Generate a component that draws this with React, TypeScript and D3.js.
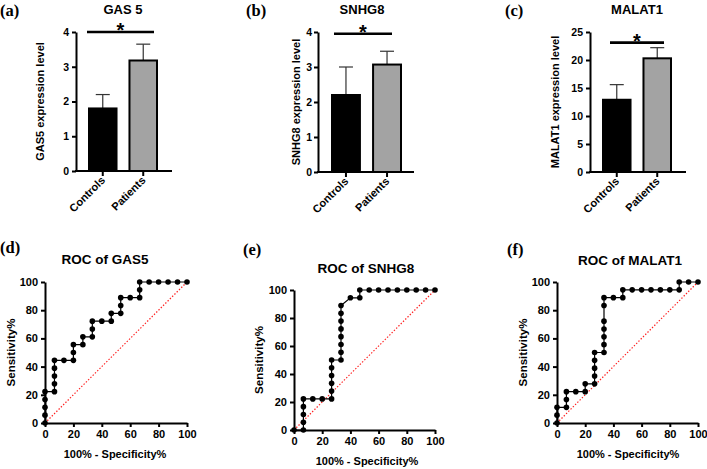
import React, { useEffect, useRef } from "react";
import * as d3 from "d3";

const FONT = "'Liberation Sans', Arial, sans-serif";
const SERIF = "'Liberation Serif', 'Times New Roman', serif";

// bar chart data
const groups = ["Controls", "Patients"];
const gas5Mean = [1.8, 3.18];
const gas5Sd = [0.4, 0.47];
const snhg8Mean = [2.2, 3.07];
const snhg8Sd = [0.8, 0.38];
const malat1Mean = [12.9, 20.3];
const malat1Sd = [2.7, 1.9];
const levelTicks = [0, 1, 2, 3, 4];
const malatTicks = [0, 5, 10, 15, 20, 25];
const rocTicks = [0, 20, 40, 60, 80, 100];

// ROC curves: 100% - specificity% (x) and sensitivity% (y)
const gas5RocX = [0, 0, 0, 0, 0, 6.67, 6.67, 6.67, 6.67, 6.67, 13.33, 20, 20, 20, 26.67, 26.67, 33.33, 33.33, 33.33, 40, 46.67, 46.67, 53.33, 53.33, 53.33, 60, 66.67, 66.67, 66.67, 73.33, 80, 86.67, 93.33, 100];
const gas5RocY = [0, 5.56, 11.11, 16.67, 22.22, 22.22, 27.78, 33.33, 38.89, 44.44, 44.44, 44.44, 50, 55.56, 55.56, 61.11, 61.11, 66.67, 72.22, 72.22, 72.22, 77.78, 77.78, 83.33, 88.89, 88.89, 88.89, 94.44, 100, 100, 100, 100, 100, 100];

const snhg8RocX = [0, 6.67, 6.67, 6.67, 6.67, 6.67, 13.33, 20, 26.67, 26.67, 26.67, 26.67, 26.67, 26.67, 33.33, 33.33, 33.33, 33.33, 33.33, 33.33, 33.33, 33.33, 40, 46.67, 46.67, 53.33, 60, 66.67, 73.33, 80, 86.67, 93.33, 100];
const snhg8RocY = [0, 0, 5.56, 11.11, 16.67, 22.22, 22.22, 22.22, 22.22, 27.78, 33.33, 38.89, 44.44, 50, 50, 55.56, 61.11, 66.67, 72.22, 77.78, 83.33, 88.89, 94.44, 94.44, 100, 100, 100, 100, 100, 100, 100, 100, 100];

const malat1RocX = [0, 0, 0, 6.67, 6.67, 6.67, 13.33, 20, 20, 26.67, 26.67, 26.67, 26.67, 26.67, 33.33, 33.33, 33.33, 33.33, 33.33, 33.33, 33.33, 40, 46.67, 46.67, 53.33, 60, 66.67, 73.33, 80, 86.67, 86.67, 93.33, 100];
const malat1RocY = [0, 5.56, 11.11, 11.11, 16.67, 22.22, 22.22, 22.22, 27.78, 27.78, 33.33, 38.89, 44.44, 50, 50, 55.56, 61.11, 66.67, 72.22, 83.33, 88.89, 88.89, 88.89, 94.44, 94.44, 94.44, 94.44, 94.44, 94.44, 94.44, 100, 100, 100];

function Axis({ kind, scale, transform, ticks, fontSize = 10.5, noLabels = false, noDomain = false, size = 4, pad = 3 }: any) {
  const ref = useRef<SVGGElement>(null);
  useEffect(() => {
    if (!ref.current) return;
    const axis = kind === "left" ? d3.axisLeft(scale) : d3.axisBottom(scale);
    axis.tickSizeInner(size).tickSizeOuter(0).tickPadding(pad);
    if (ticks) axis.tickValues(ticks).tickFormat((d: any) => String(d));
    if (noLabels) axis.tickFormat(() => "");
    const g = d3.select(ref.current);
    g.selectAll("*").remove();
    g.call(axis as any);
    g.select(".domain").attr("stroke-width", 2).attr("stroke", "#000");
    if (noDomain) g.select(".domain").remove();
    g.selectAll(".tick line").attr("stroke-width", 2).attr("stroke", "#000");
    g.selectAll(".tick text")
      .attr("font-family", FONT)
      .attr("font-weight", "bold")
      .attr("font-size", fontSize)
      .attr("fill", "#000");
  });
  return <g ref={ref} transform={transform} />;
}

function BarPanel(p: any) {
  const y = d3.scaleLinear().domain([0, p.yMax]).range([p.yBottom, p.yTop]);
  const x = d3.scaleBand().domain(groups).range([p.barLeft, p.barRight]).paddingInner(0.32);
  const y0 = y(0);
  const sigY = y(p.sigLevel);
  return (
    <g>
      <text x={p.tagX} y={15.5} fontFamily={SERIF} fontWeight="bold" fontSize={16.5}>{p.tag}</text>
      <text x={p.titleX} y={14} textAnchor="middle" fontFamily={FONT} fontWeight="bold" fontSize={13}>{p.title}</text>
      <text transform={`translate(${p.yLabelX},${(p.yTop + p.yBottom) / 2}) rotate(-90)`} textAnchor="middle"
        fontFamily={FONT} fontWeight="bold" fontSize={11}>{p.yLabel}</text>
      {groups.map((g, i) => {
        const cx = x(g)! + x.bandwidth() / 2;
        const top = y(p.means[i] + p.sds[i]);
        return (
          <g key={g}>
            <line x1={cx} x2={cx} y1={y(p.means[i])} y2={top} stroke="#333" strokeWidth={1.2} />
            <line x1={cx - 7} x2={cx + 7} y1={top} y2={top} stroke="#333" strokeWidth={1.2} />
            <rect x={x(g)} y={y(p.means[i])} width={x.bandwidth()} height={y0 - y(p.means[i])}
              fill={i === 0 ? "#000" : "#a3a3a3"} stroke="#000" strokeWidth={2} />
            <text transform={`translate(${cx + 3},${y0 + 10}) rotate(-45)`} textAnchor="end"
              fontFamily={FONT} fontWeight="bold" fontSize={11}>{g}</text>
          </g>
        );
      })}
      <Axis kind="bottom" scale={x} transform={`translate(0,${y0})`} noLabels noDomain size={5} />
      <line x1={p.axisX - 1} x2={p.axisEnd} y1={y0} y2={y0} stroke="#000" strokeWidth={2} />
      <Axis kind="left" scale={y} ticks={p.ticks} transform={`translate(${p.axisX},0)`} pad={p.tickPad ?? 3} />
      <line x1={p.sigFrom} x2={p.sigTo} y1={sigY} y2={sigY} stroke="#000" strokeWidth={2.6} />
      <text x={(p.sigFrom + p.sigTo) / 2} y={sigY + 5} textAnchor="middle" fontFamily={FONT}
        fontWeight="bold" fontSize={20}>*</text>
    </g>
  );
}

function RocPanel(p: any) {
  const x = d3.scaleLinear().domain([0, 100]).range([p.x0, p.x1]);
  const y = d3.scaleLinear().domain([0, 100]).range([p.y0, p.y1]);
  const pts: [number, number][] = p.xs.map((v: number, i: number) => [v, p.ys[i]]);
  const line = d3.line<[number, number]>().x((d) => x(d[0])).y((d) => y(d[1]));
  return (
    <g>
      <text x={p.tagX} y={p.tagY} fontFamily={SERIF} fontWeight="bold" fontSize={16.5}>{p.tag}</text>
      <text x={p.titleX} y={p.titleY} textAnchor="middle" fontFamily={FONT} fontWeight="bold" fontSize={13.5}>{p.title}</text>
      <text x={p.xLabelX} y={p.xLabelY} textAnchor="middle" fontFamily={FONT} fontWeight="bold" fontSize={11}>100% - Specificity%</text>
      <text transform={`translate(${p.yLabelX},${(p.y0 + p.y1) / 2}) rotate(-90)`} textAnchor="middle"
        fontFamily={FONT} fontWeight="bold" fontSize={11.5}>Sensitivity%</text>
      <line x1={x(0)} y1={y(0)} x2={x(100)} y2={y(100)} stroke="#ff2020" strokeWidth={1.2} strokeDasharray="1.4,1.8" />
      <Axis kind="bottom" scale={x} ticks={rocTicks} transform={`translate(0,${p.y0})`} fontSize={11} />
      <Axis kind="left" scale={y} ticks={rocTicks} transform={`translate(${p.x0},0)`} fontSize={11} />
      <path d={line(pts)!} fill="none" stroke="#000" strokeWidth={1.2} />
      {pts.map((d, i) => (
        <circle key={i} cx={x(d[0])} cy={y(d[1])} r={2.8} fill="#000" />
      ))}
    </g>
  );
}

export default function App() {
  return (
    <svg width={707} height={469} style={{ position: "absolute", left: 0, top: 0, background: "#fff" }}>
      <BarPanel tag="(a)" tagX={0} title="GAS 5" titleX={123} yLabel="GAS5 expression level" yLabelX={44}
        means={gas5Mean} sds={gas5Sd} yMax={4} ticks={levelTicks} axisX={76} axisEnd={172}
        barLeft={89} barRight={157} yTop={32} yBottom={171} sigLevel={4} sigFrom={87} sigTo={154} />
      <BarPanel tag="(b)" tagX={246} title="SNHG8" titleX={362} yLabel="SNHG8 expression level" yLabelX={300}
        means={snhg8Mean} sds={snhg8Sd} yMax={4} ticks={levelTicks} axisX={318} axisEnd={414} tickPad={2}
        barLeft={332} barRight={401} yTop={32} yBottom={172} sigLevel={3.95} sigFrom={334} sigTo={392} />
      <BarPanel tag="(c)" tagX={505} title="MALAT1" titleX={637} yLabel="MALAT1 expression level" yLabelX={559}
        means={malat1Mean} sds={malat1Sd} yMax={25} ticks={malatTicks} axisX={590} axisEnd={686}
        barLeft={603} barRight={671} yTop={32} yBottom={172} sigLevel={23.1} sigFrom={610} sigTo={664} />

      <RocPanel tag="(d)" tagX={0} tagY={253} title="ROC of GAS5" titleX={105} titleY={264}
        xs={gas5RocX} ys={gas5RocY} x0={45} x1={187} y0={423} y1={282}
        xLabelX={115} xLabelY={458} yLabelX={15} />
      <RocPanel tag="(e)" tagX={243} tagY={255} title="ROC of SNHG8" titleX={366} titleY={273}
        xs={snhg8RocX} ys={snhg8RocY} x0={294} x1={435} y0={430} y1={290}
        xLabelX={367} xLabelY={465} yLabelX={263} />
      <RocPanel tag="(f)" tagX={507} tagY={255} title="ROC of MALAT1" titleX={630} titleY={265}
        xs={malat1RocX} ys={malat1RocY} x0={557} x1={698} y0={423} y1={282}
        xLabelX={628} xLabelY={458} yLabelX={527} />
    </svg>
  );
}
